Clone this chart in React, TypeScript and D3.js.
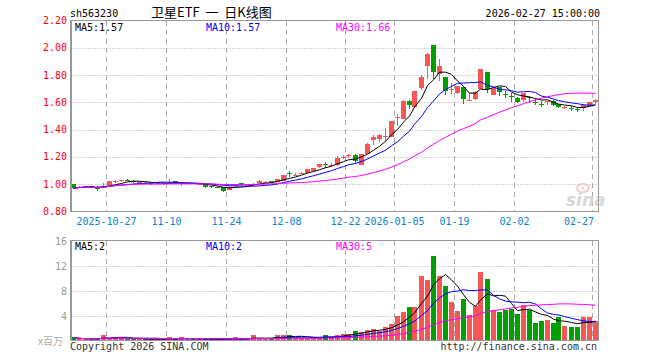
import React from "react";
import * as d3 from "d3";

const dates = [
  "2025-10-17", "2025-10-20", "2025-10-21", "2025-10-22", "2025-10-23", "2025-10-24",
  "2025-10-27", "2025-10-28", "2025-10-29", "2025-10-30", "2025-10-31",
  "2025-11-03", "2025-11-04", "2025-11-05", "2025-11-06", "2025-11-07",
  "2025-11-10", "2025-11-11", "2025-11-12", "2025-11-13", "2025-11-14",
  "2025-11-17", "2025-11-18", "2025-11-19", "2025-11-20", "2025-11-21",
  "2025-11-24", "2025-11-25", "2025-11-26", "2025-11-27", "2025-11-28",
  "2025-12-01", "2025-12-02", "2025-12-03", "2025-12-04", "2025-12-05",
  "2025-12-08", "2025-12-09", "2025-12-10", "2025-12-11", "2025-12-12",
  "2025-12-15", "2025-12-16", "2025-12-17", "2025-12-18", "2025-12-19",
  "2025-12-22", "2025-12-23", "2025-12-24", "2025-12-25", "2025-12-26",
  "2025-12-29", "2025-12-30", "2025-12-31",
  "2026-01-05", "2026-01-06", "2026-01-07", "2026-01-08", "2026-01-09",
  "2026-01-12", "2026-01-13", "2026-01-14", "2026-01-15", "2026-01-16",
  "2026-01-19", "2026-01-20", "2026-01-21", "2026-01-22", "2026-01-23",
  "2026-01-26", "2026-01-27", "2026-01-28", "2026-01-29", "2026-01-30",
  "2026-02-02", "2026-02-03", "2026-02-04", "2026-02-05", "2026-02-06",
  "2026-02-09", "2026-02-10", "2026-02-11", "2026-02-12", "2026-02-13",
  "2026-02-24", "2026-02-25", "2026-02-26", "2026-02-27",
];

const opens = [
  1.000, 0.978, 0.982, 0.986, 0.978, 0.975, 0.995, 1.018, 1.022, 1.033,
  1.024, 1.012, 1.012, 1.008, 1.002, 1.005, 1.008, 1.020, 1.004, 1.003,
  1.006, 0.998, 1.000, 0.985, 0.980, 0.978, 0.960, 0.985, 1.008, 0.992,
  0.996, 1.010, 1.015, 1.020, 1.018, 1.027, 1.082, 1.066, 1.080, 1.085,
  1.100, 1.123, 1.148, 1.138, 1.140, 1.198, 1.205, 1.215, 1.142, 1.222,
  1.325, 1.332, 1.350, 1.345, 1.485, 1.480, 1.612, 1.563, 1.705, 1.864,
  2.018, 1.810, 1.783, 1.695, 1.669, 1.715, 1.614, 1.622, 1.698, 1.823,
  1.655, 1.710, 1.660, 1.645, 1.634, 1.617, 1.640, 1.605, 1.590, 1.600,
  1.610, 1.585, 1.560, 1.562, 1.550, 1.555, 1.575, 1.600,
];
const highs = [
  1.005, 0.988, 0.990, 0.990, 0.985, 1.010, 1.025, 1.028, 1.032, 1.038,
  1.028, 1.022, 1.018, 1.012, 1.012, 1.012, 1.040, 1.022, 1.010, 1.012,
  1.008, 1.008, 1.002, 0.990, 0.985, 0.980, 0.985, 1.000, 1.010, 1.000,
  1.008, 1.030, 1.025, 1.025, 1.040, 1.068, 1.100, 1.080, 1.092, 1.112,
  1.122, 1.148, 1.165, 1.155, 1.205, 1.215, 1.225, 1.218, 1.225, 1.300,
  1.362, 1.368, 1.410, 1.462, 1.515, 1.618, 1.614, 1.685, 1.800, 1.960,
  2.020, 1.920, 1.785, 1.740, 1.722, 1.720, 1.665, 1.680, 1.848, 1.826,
  1.710, 1.712, 1.680, 1.665, 1.640, 1.668, 1.650, 1.625, 1.610, 1.610,
  1.615, 1.590, 1.572, 1.572, 1.560, 1.590, 1.605, 1.625,
];
const lows = [
  0.965, 0.975, 0.978, 0.975, 0.950, 0.970, 0.993, 1.010, 1.015, 1.020,
  1.012, 1.005, 1.002, 0.995, 1.000, 0.995, 1.002, 1.005, 0.985, 1.000,
  0.998, 0.995, 0.975, 0.972, 0.970, 0.940, 0.955, 0.980, 0.988, 0.988,
  0.992, 1.008, 1.010, 1.008, 1.015, 1.025, 1.055, 1.060, 1.075, 1.080,
  1.098, 1.120, 1.118, 1.130, 1.135, 1.185, 1.195, 1.158, 1.140, 1.220,
  1.290, 1.310, 1.320, 1.343, 1.430, 1.478, 1.550, 1.560, 1.690, 1.770,
  1.770, 1.760, 1.655, 1.660, 1.660, 1.590, 1.612, 1.615, 1.695, 1.670,
  1.652, 1.645, 1.630, 1.600, 1.595, 1.600, 1.595, 1.580, 1.565, 1.580,
  1.575, 1.560, 1.550, 1.540, 1.530, 1.535, 1.570, 1.590,
];
const closes = [
  0.970, 0.982, 0.984, 0.980, 0.968, 0.990, 1.020, 1.022, 1.028, 1.025,
  1.018, 1.015, 1.008, 1.003, 1.008, 1.008, 1.012, 1.008, 1.006, 1.008,
  1.002, 1.002, 0.980, 0.978, 0.975, 0.953, 0.980, 0.995, 0.992, 0.996,
  1.004, 1.025, 1.018, 1.015, 1.037, 1.064, 1.078, 1.070, 1.085, 1.110,
  1.120, 1.145, 1.143, 1.142, 1.195, 1.202, 1.212, 1.172, 1.220, 1.295,
  1.345, 1.358, 1.355, 1.460, 1.490, 1.612, 1.582, 1.680, 1.783, 1.957,
  1.823, 1.864, 1.680, 1.700, 1.717, 1.625, 1.618, 1.678, 1.845, 1.698,
  1.707, 1.676, 1.655, 1.640, 1.600, 1.665, 1.635, 1.600, 1.585, 1.608,
  1.580, 1.563, 1.565, 1.558, 1.545, 1.580, 1.605, 1.620,
];
// volume, unit: 百万
const volumes = [
  0.48, 0.22, 0.2, 0.22, 0.2, 0.96, 0.3, 0.64, 0.43, 0.2,
  0.22, 0.2, 0.22, 0.2, 0.22, 0.2, 0.48, 0.2, 0.48, 0.22,
  0.2, 0.22, 0.2, 0.22, 0.2, 0.25, 0.22, 0.48, 0.2, 0.22,
  0.8, 0.3, 0.3, 0.3, 0.8, 0.8, 0.96, 0.4, 0.4, 0.42,
  0.4, 0.42, 0.8, 0.5, 0.8, 1.07, 1.1, 1.6, 1.33, 1.76,
  1.92, 1.6, 2.24, 2.67, 3.9, 4.53, 5.44, 5.44, 10.3, 9.76,
  13.6, 10.3, 8.7, 6.13, 4.8, 6.72, 4.16, 5.6, 11.04, 9.92,
  4.96, 4.64, 4.96, 5.07, 4.27, 5.76, 4.96, 2.77, 3.2, 3.36,
  2.77, 3.73, 2.4, 2.24, 2.24, 3.73, 3.84, 3.2,
];

const tickDates = ["2025-10-27", "2025-11-10", "2025-11-24", "2025-12-08", "2025-12-22", "2026-01-05", "2026-01-19", "2026-02-02", "2026-02-27"];
const tickLabels = ["2025-10-27", "11-10", "11-24", "12-08", "12-22", "2026-01-05", "01-19", "02-02", "02-27"];
const priceTicks = [0.8, 1.0, 1.2, 1.4, 1.6, 1.8, 2.0, 2.2];
const volTicks = [4, 8, 12, 16];

const priceLegend = ["MA5:1.57", "MA10:1.57", "MA30:1.66"];
const volLegend = ["MA5:2", "MA10:2", "MA30:5"];

const UP = "#f55656";
const DOWN = "#00a000";
const MA_COLORS = ["#000000", "#0000ff", "#ff00ff"];
const MONO = "'DejaVu Sans Mono', 'Liberation Mono', monospace";

function movingAvg(arr: number[], n: number): number[] {
  return arr.map((_, i) => d3.mean(arr.slice(Math.max(0, i - n + 1), i + 1)) as number);
}

export default function App() {
  const L = 70.5, R = 598.5;
  const x = d3.scaleLinear().domain([0, dates.length]).range([L, R]);
  const y = d3.scaleLinear().domain([0.8, 2.2]).range([211.5, 20.5]);
  const yv = d3.scaleLinear().domain([0, 16]).range([340.5, 240.5]);

  const left = (i: number) => Math.round(x(i));
  const cxp = (i: number) => left(i) + 2.5;

  const maN = [5, 10, 30];
  const priceMAs = maN.map((n) => movingAvg(closes, n));
  const volMAs = maN.map((n) => movingAvg(volumes, n));

  const priceLine = d3.line<number>().x((_, i) => cxp(i)).y((d) => y(d));
  const volLine = d3.line<number>().x((_, i) => cxp(i)).y((d) => yv(d));

  const tickIdx = tickDates.map((d) => dates.indexOf(d));

  const gridX = (i: number) => left(i) + 0.5 - 1;
  const FS = 10;

  return (
    <svg width={660} height={360} style={{ position: "absolute", left: 0, top: 0, background: "#fff" }}
      xmlns="http://www.w3.org/2000/svg">
      <rect x={0} y={0} width={660} height={360} fill="#fff" />
      {/* header */}
      <text x={70} y={16.5} fontFamily={MONO} fontSize={FS} fill="#000">sh563230</text>
      <text x={151} y={17} fontFamily="'Noto Sans CJK SC', sans-serif" fontSize={13} fill="#000"
        style={{ whiteSpace: "pre" }}>{"卫星ETF  一  日K线图"}</text>
      <text x={600} y={16.5} fontFamily={MONO} fontSize={FS} fill="#000" textAnchor="end">2026-02-27 15:00:00</text>

      {/* price grid */}
      {priceTicks.slice(1, -1).map((t) => (
        <line key={"pg" + t} x1={L} x2={R} y1={Math.round(y(t)) + 0.5} y2={Math.round(y(t)) + 0.5}
          stroke="#aaa" strokeDasharray="1,2" />
      ))}
      {tickIdx.map((i) => (
        <line key={"vg" + i} x1={gridX(i)} x2={gridX(i)} y1={21} y2={211} stroke="#aaa" strokeDasharray="5,4" />
      ))}
      {tickIdx.map((i) => (
        <line key={"vg2" + i} x1={gridX(i)} x2={gridX(i)} y1={241} y2={340} stroke="#aaa" strokeDasharray="5,4" />
      ))}
      {volTicks.slice(0, -1).map((t) => (
        <line key={"vgg" + t} x1={L} x2={R} y1={Math.round(yv(t)) + 0.5} y2={Math.round(yv(t)) + 0.5}
          stroke="#aaa" strokeDasharray="1,2" />
      ))}

      {/* sina watermark */}
      <g opacity={0.9}>
        <ellipse cx={583} cy={188} rx={6} ry={4} fill="none" stroke="#f2caca" strokeWidth={2} />
        <circle cx={583} cy={188} r={1.6} fill="#f2caca" />
        <text x={566} y={206} fontFamily="'DejaVu Sans', sans-serif" fontStyle="italic" fontWeight="bold"
          fontSize={17} fill="#d4d4d4">sina</text>
      </g>

      {/* price labels */}
      {priceTicks.map((t) => (
        <text key={"pl" + t} x={67} y={y(t) + 3.5} fontFamily={MONO} fontSize={FS} fill="#ff0000"
          textAnchor="end">{t.toFixed(2)}</text>
      ))}
      {/* x labels */}
      {tickIdx.map((i, k) => (
        <text key={"xl" + i} x={k === tickIdx.length - 1 ? gridX(i) + 1.5 : gridX(i)} y={225}
          fontFamily={MONO} fontSize={FS} fill="#0a84d2"
          textAnchor={k === tickIdx.length - 1 ? "end" : "middle"}>{tickLabels[k]}</text>
      ))}
      {/* volume labels */}
      {volTicks.map((t) => (
        <text key={"vl" + t} x={67} y={yv(t) + 4} fontFamily={MONO} fontSize={FS} fill="#999"
          textAnchor="end">{t}</text>
      ))}
      <text x={63} y={345} fontFamily="'Noto Sans CJK SC', sans-serif" fontSize={10} fill="#aaa" textAnchor="end">x百万</text>

      {/* candles */}
      <g shapeRendering="crispEdges">
        {closes.map((c, i) => {
          const o = opens[i];
          const col = c >= o ? UP : DOWN;
          const top = Math.round(y(Math.max(o, c)));
          const bot = Math.round(y(Math.min(o, c)));
          return (
            <g key={"c" + i}>
              <line x1={cxp(i)} x2={cxp(i)} y1={Math.round(y(highs[i]))} y2={Math.round(y(lows[i]))} stroke={col} />
              <rect x={left(i)} y={top} width={5} height={Math.max(1, bot - top)} fill={col} />
            </g>
          );
        })}
        {volumes.map((v, i) => {
          const col = closes[i] >= opens[i] ? UP : DOWN;
          const top = Math.round(yv(v));
          return <rect key={"v" + i} x={left(i)} y={top} width={5} height={Math.max(1, 340 - top)} fill={col} />;
        })}
      </g>

      {/* MA lines */}
      {priceMAs.map((m, k) => (
        <path key={"pm" + k} d={priceLine(m) || ""} fill="none" stroke={MA_COLORS[k]} strokeWidth={1} />
      ))}
      {volMAs.map((m, k) => (
        <path key={"vm" + k} d={volLine(m) || ""} fill="none" stroke={MA_COLORS[k]} strokeWidth={1} />
      ))}

      {/* frames */}
      <g shapeRendering="crispEdges" fill="none" stroke="#999">
        <rect x={L} y={20.5} width={R - L} height={191} />
        <rect x={L} y={240.5} width={R - L} height={100} />
        <line x1={70.5} x2={70.5} y1={20} y2={212} strokeWidth={2} />
        <line x1={70.5} x2={70.5} y1={240} y2={341} strokeWidth={2} />
      </g>

      {/* legends */}
      {priceLegend.map((s, k) => (
        <text key={"lg" + k} x={[75, 206, 336][k]} y={30.5} fontFamily={MONO} fontSize={FS} fill={MA_COLORS[k]}>{s}</text>
      ))}
      {volLegend.map((s, k) => (
        <text key={"vlg" + k} x={[75, 206, 336][k]} y={250} fontFamily={MONO} fontSize={FS} fill={MA_COLORS[k]}>{s}</text>
      ))}

      {/* footer */}
      <text x={70} y={350} fontFamily={MONO} fontSize={FS} fill="#333">Copyright 2026 SINA.COM</text>
      <text x={597} y={350} fontFamily={MONO} fontSize={FS} fill="#333" textAnchor="end">http://finance.sina.com.cn</text>
    </svg>
  );
}
